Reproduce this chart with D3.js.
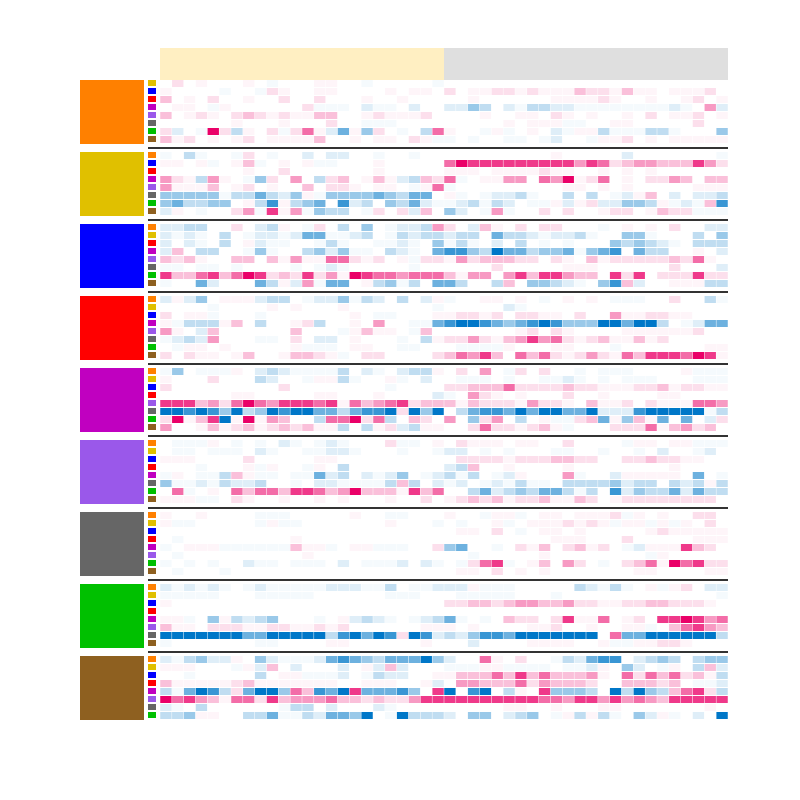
<!DOCTYPE html>
<html><head><meta charset="utf-8">
<script src="https://cdn.jsdelivr.net/npm/d3@7"></script>
<style>html,body{margin:0;padding:0;background:#fff}</style>
</head><body><div id="chart"></div>
<script>
// Groups (big colour blocks) and their colours
const groups = ["orange","yellow","blue","red","magenta","purple","gray","green","brown"];
const groupColors = ["#ff8000","#e0c000","#0000ff","#ff0000","#c000c0","#9a58ea","#666666","#00c000","#8e6020"];
// Column halves (header bands)
const halves = ["A","B"];
const headerColors = ["#ffefc2","#dfdfdf"];
const columnsPerHalf = 24;
// Cell levels: '0' = 0, '1'..'7' = +1..+7 (pink), 'a'..'g' = -1..-7 (blue)
// Each group lists the other 8 groups in order.
const orangeRows = [
"020100010a0001100a00000a000000000000000000000000",
"10000a00a210011000010110201122121113221311011120",
"301020010020020001001000001000000111121001001201",
"0110a10000002aaa0baa0b00bbdc0baccbbaaaaaaaaba04b",
"301210232121133001211120000100110210100102011201",
"00000010001000200aaa00000000010111aa001100000200",
"2b0a72c102a251be1d20a0c5100a1a010ba11caaacca000d",
"31201012011113001011021aa0a00aa0ab00a11201011111"];
const yellowRows = [
"a0ca00a20a00b0bb00a00a00000000000100000b0000000a",
"1101a013a0101aa000100000576666666664652344333642",
"000000010020000000100000111011112110010101000000",
"421c410ad2040c230131bc325a0114405471250102243033",
"411130120100302210110a15a00000000011010100000111",
"dddddaccecbd1addddedcee01a0abbca00c0c0ab130b0bbc",
"deccdd01cf1cde0fbc0dcebaabcacb0aa1b12bbddc1aba3f",
"b10a0024a614adcc0a202b30db0a4a002020012201322aaa"];
const blueRows = [
"bbcc0020bc10a20c0d0abbc420b3102022000a01010200bb",
"baba0c0abbabeeaabc0acbccbcc0eccbabbca00dda000c0d",
"b0ba0c01baa00aca00aaba0daca0b0c0a0a000dcdcba0ccc",
"b30cc00ada00cdbdaa0cba0effdcgeecddeadef0ecc0010b",
"323100330314115521201a22142333220210312222232510",
"aa0aa0a0000a0aba00000a0000002000001110000002000b",
"633563576232624176554555314404636643306260222622",
"a00eb000ec1b4aee01cdac0eec00c30ddcba0df3b00111cc"];
const redRows = [
"b1bd0111bcc0abbdacb0c0b1a0011010a01010aaa00200ca",
"0000a000010100010000000a00000ba00000000000000000",
"2011a000a000000010aa0001122120221102004112211000",
"1accc130c0012c0010400aaefggfedefgfdddggeggc0abee",
"410b30000003000a13110a30000000120210000111111200",
"abcb4000aa020bb01000a0c1224213464521231131200000",
"0a1101000001aaa01100aa000aaaa100011000a000000011",
"202110130013321a02200002354630535212421536665761"];
const magentaRows = [
"ad0aaa10bcbaaaac0ba0bcc102040a20200a0aaa00001aaa",
"10002000cb00a11ca001a0b00aaa0a00aaba0a0aaa000aaa",
"2000000000200000000a0000223335222232211122312211",
"00000011000001100010000ba04210100020010000110000",
"666342575466656153456233313222142210311202111554",
"ggfgfdgcdgfggeeceffg2gdg0ceffegeggeegbbbfgggggac",
"27136g1714300c55725c032040d240c01aa23e1d31e0e0b2",
"400131231232311c0c12bc110025221231a0002225134230"];
const purpleRows = [
"0aaa10a0a0ba0aba0002aa01021110110020000a11011aaa",
"0aa0aaa0ba00aabba000a00abb0a0a000aa00a00a0b00ab0",
"111000020000011000000000022221222332200223221100",
"000a0001a100a10c00000000bc3001000010000000010000",
"a10aac31aa0aaebc0babd0abcac0ab10004a00b111110e0a",
"daabacbbc00a0bbaaaac3c0bab0abacaa0ccccdbcc0cbc1c",
"05a01053553665347333163500cebcdceecac0fbdccebecc",
"111aa0210010010100010020123231223113201222222220"];
const grayRows = [
"10010000aaa00000100aa000100a11a01101112a10100220",
"1aa00000a1aa00000001000a0a001a01112121a11a1a1020",
"000000000000000000000000011020a01101000001211111",
"0a0000000001000000000000000000000111000200000111",
"a0111aaaaaa311a011aaa002de00a0213023120ab1116320",
"0a000000000010000000000000a00000100000000a100000",
"a0a0a00baa0aaa0b0aaab0ba0a256a0130420a0235175622",
"0a000a000000000000000000011020101000000011000011"];
const greenRows = [
"bababa0abaaaaabbbaac0aabbb1aaa00000cbaca01a120bb",
"aaaaa000aaaaa000000aaa000aaaaa000a0000000000000a",
"100000000000000000000000223323443342211223322210",
"000000000000000000000000000000000000000000000000",
"11a0d1cbcd000a01bcba0abcea0a03220261150120667645",
"31102221122112120000001110100001120010011a035643",
"gggggggeegggggcfgegf2gfbcbdffeggggggg05eeggggggc",
"a0000000aa0000110000001000b00001111001aa11221000"];
const brownRows = [
"bacdbb10dbaaabefedceeegdb00510200acbeff0bcdc0cdd",
"111000a1b30b000b01b3b000aaa11aaaa0aab10db0a10c3b",
"00a00000c011aaab0acbb00113335363533341052535231c",
"31111123111111100111001b044333524333200333230aab",
"caegfc2eggd53feg6eeefd06g0fg0c106dddc0gcgdc3562c",
"756431552634445332322466666666665546646454366666",
"ba0c000000acc0b000ba0000000001100100011000000010",
"ccd1100cceaacbeedg0agcccb0dd0bcd0a1c1ca0db1a0b0g"];

const groupRows = [orangeRows,yellowRows,blueRows,redRows,magentaRows,purpleRows,grayRows,greenRows,brownRows];

function decode(ch){
  if (ch >= "1" && ch <= "9") return +ch;
  if (ch >= "a" && ch <= "g") return -(ch.charCodeAt(0) - 96);
  return 0;
}

const W = 800, H = 800;
const svg = d3.select("#chart").append("svg").attr("width", W).attr("height", H);

const nCols = columnsPerHalf * halves.length;
const x = d3.scaleBand().domain(d3.range(nCols)).range([160, 728]).paddingInner(0.04).paddingOuter(0.02);
const xEdge = d3.scaleLinear().domain([0, nCols]).range([160, 728]);
const yGroup = d3.scaleLinear().domain([0, groups.length]).range([80, 80 + 72 * groups.length]);
const yRow = d3.scaleLinear().domain([0, 8]).range([0, 64]);

const color = d3.scaleDivergingPow()
  .exponent(1.65)
  .domain([-7, 0, 7])
  .interpolator(d3.piecewise(d3.interpolateRgb, ["#0077c8", "#ffffff", "#ea0068"]));

// header bands
svg.selectAll("rect.hdr").data(halves).join("rect").attr("class","hdr")
  .attr("x", (d,i) => xEdge(i * columnsPerHalf))
  .attr("width", xEdge(columnsPerHalf) - xEdge(0))
  .attr("y", 48).attr("height", 32)
  .attr("fill", (d,i) => headerColors[i]);

const cells = [];
groups.forEach((g, gi) => {
  const others = groups.filter(o => o !== g);
  groupRows[gi].forEach((row, ri) => {
    row.split("").forEach((ch, ci) => {
      cells.push({g: gi, r: ri, c: ci, other: others[ri], v: decode(ch)});
    });
  });
});

const gEl = svg.selectAll("g.grp").data(groups).join("g").attr("class","grp")
  .attr("transform", (d,i) => `translate(0,${yGroup(i)})`);

// big group blocks
gEl.append("rect").attr("x", 80).attr("y", 0).attr("width", 64).attr("height", 64)
  .attr("fill", (d,i) => groupColors[i]);

// row icons
gEl.each(function(g, gi){
  const others = groups.filter(o => o !== g);
  d3.select(this).selectAll("rect.icon").data(others).join("rect").attr("class","icon")
    .attr("x", 148).attr("width", 8)
    .attr("y", (d,i) => yRow(i)).attr("height", 6)
    .attr("fill", d => groupColors[groups.indexOf(d)]);
});

// cells
svg.append("g").selectAll("rect.cell").data(cells.filter(d => d.v !== 0)).join("rect").attr("class","cell")
  .attr("x", d => x(d.c)).attr("width", x.bandwidth())
  .attr("y", d => yGroup(d.g) + yRow(d.r)).attr("height", 7)
  .attr("fill", d => color(d.v));

// separators
svg.selectAll("line.sep").data(d3.range(groups.length - 1)).join("line").attr("class","sep")
  .attr("x1", 148).attr("x2", 728)
  .attr("y1", d => yGroup(d) + 68).attr("y2", d => yGroup(d) + 68)
  .attr("stroke", "#333").attr("stroke-width", 2);
</script>
</body></html>
